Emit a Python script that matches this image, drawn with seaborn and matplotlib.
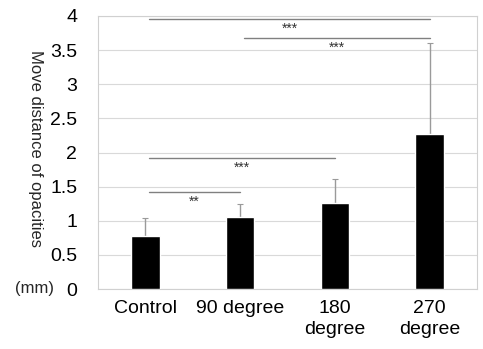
import numpy as np
import pandas as pd
import matplotlib
matplotlib.use("Agg")
import matplotlib.pyplot as plt
import seaborn as sns

# data
groups = ["Control", "90 degree", "180\ndegree", "270\ndegree"]
means = [0.77, 1.05, 1.26, 2.27]
sds = [0.27, 0.20, 0.35, 1.34]

# significance brackets: (from group, to group, height, label)
brackets = [
    (0, 3, 3.96, "***"),
    (1, 3, 3.68, "***"),
    (0, 2, 1.915, "***"),
    (0, 1, 1.425, "**"),
]

sns.set_theme(style="white")
plt.rcParams["font.family"] = ["Liberation Sans", "DejaVu Sans"]

df = pd.DataFrame({"group": groups, "mean": means, "sd": sds})

fig = plt.figure(figsize=(4.83, 3.49), dpi=100)
ax = fig.add_axes([98 / 483, 1 - 289 / 349, 379 / 483, 273 / 349])

sns.barplot(data=df, x="group", y="mean", color="black", width=0.3,
            saturation=1, ax=ax, zorder=3)

# upward-only error bars
xpos = np.arange(len(groups))
ax.errorbar(xpos, df["mean"], yerr=[np.zeros(len(sds)), df["sd"]],
            fmt="none", ecolor="#9a9a9a", elinewidth=1, capsize=2.5,
            capthick=0.8, zorder=2)

for i, j, h, lab in brackets:
    x0 = i + 0.04
    x1 = j
    ax.plot([x0, x1], [h, h], color="#808080", lw=1, zorder=4)
    ax.text((x0 + x1) / 2, h - 0.04, lab, ha="center", va="top",
            fontsize=10, color="#333333")

ax.set_ylim(0, 4)
ax.set_xlim(-0.5, 3.5)
ax.set_yticks(np.arange(0, 4.01, 0.5))
ax.set_yticklabels(["0", "0.5", "1", "1.5", "2", "2.5", "3", "3.5", "4"])
ax.yaxis.grid(True, color="#d9d9d9", lw=0.8, zorder=0)
ax.set_axisbelow(True)
ax.tick_params(axis="both", length=0, labelsize=14, colors="black")
ax.tick_params(axis="y", pad=15)
ax.tick_params(axis="x", pad=8)
for lbl in ax.get_xticklabels():
    lbl.set_linespacing(1.3)
ax.set_xlabel("")
ax.set_ylabel("")
for s in ax.spines.values():
    s.set_color("#d0d0d0")
    s.set_linewidth(0.8)

fig.text(35 / 483, 1 - 149 / 349, "Move distance of opacities", rotation=-90,
         ha="center", va="center", fontsize=12)
fig.text(35 / 483, 1 - 289 / 349, "(mm)", ha="center", va="center",
         fontsize=12)

fig.savefig("out.png", dpi=100)
